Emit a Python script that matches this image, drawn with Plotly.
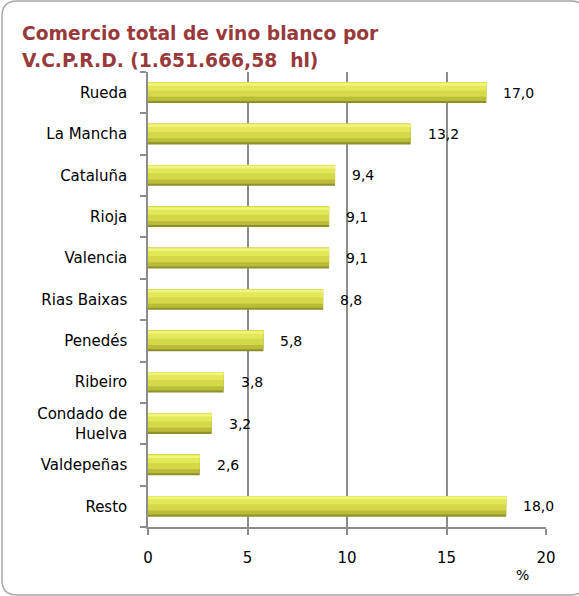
import plotly.graph_objects as go

categories = ["Rueda", "La Mancha", "Cataluña", "Rioja", "Valencia", "Rias Baixas",
              "Penedés", "Ribeiro", "Condado de<br>Huelva", "Valdepeñas", "Resto"]
values = [17.0, 13.2, 9.4, 9.1, 9.1, 8.8, 5.8, 3.8, 3.2, 2.6, 18.0]
labels = ["17,0", "13,2", "9,4", "9,1", "9,1", "8,8", "5,8", "3,8", "3,2", "2,6", "18,0"]
x_ticks = [0, 5, 10, 15, 20]
title_lines = ["Comercio total de vino blanco por", "V.C.P.R.D. (1.651.666,58  hl)"]

# bottom-to-top order for plotting
cats = categories[::-1]
vals = values[::-1]
labs = labels[::-1]

FONT = "DejaVu Sans"
W, H = 579, 596
L, R, T, B = 148, 33, 72, 69
PW, PH = W - L - R, H - T - B

def px(x):
    return (x - L) / PW

def py(y):
    return (H - B - y) / PH

fig = go.Figure()
# bevel layers: (offset, width, color)
layers = [
    (-0.25, 0.50, "#8e9029"),
    (-0.20, 0.45, "#b9bd37"),
    (-0.10, 0.35, "#d3d948"),
    (0.05, 0.20, "#e2e858"),
    (0.17, 0.06, "#f1f57c"),
]
for off, w, col in layers:
    fig.add_trace(go.Bar(
        y=cats, x=vals, orientation="h", offset=off, width=w,
        marker=dict(color=col, line=dict(width=0)),
        hoverinfo="skip", showlegend=False,
    ))

for c, v, t in zip(cats, vals, labs):
    fig.add_annotation(x=v, y=c, text=t, showarrow=False, xanchor="left",
                       xshift=15, font=dict(family=FONT, size=14, color="#000"))

fig.add_annotation(x=px(522), y=py(565), xref="paper", yref="paper", text="%",
                   showarrow=False, xanchor="center", yanchor="top",
                   font=dict(family=FONT, size=14, color="#000"))

for i, line in enumerate(title_lines):
    fig.add_annotation(x=px(20), y=py(21 + 27.5 * i), xref="paper", yref="paper",
                       text=line, showarrow=False, xanchor="left", yanchor="top",
                       align="left",
                       font=dict(family=FONT, size=18.7, color="#993939", weight="bold"))

x0, x1, y0, y1 = px(2), px(586), py(595), py(1)
rx, ry = 15 / PW, 15 / PH
border = (f"M {x0+rx} {y1} L {x1-rx} {y1} Q {x1} {y1} {x1} {y1-ry} "
          f"L {x1} {y0+ry} Q {x1} {y0} {x1-rx} {y0} L {x0+rx} {y0} "
          f"Q {x0} {y0} {x0} {y0+ry} L {x0} {y1-ry} Q {x0} {y1} {x0+rx} {y1} Z")

fig.update_layout(
    barmode="overlay",
    width=W, height=H,
    margin=dict(l=L, r=R, t=T, b=B, autoexpand=False),
    paper_bgcolor="white", plot_bgcolor="white",
    xaxis=dict(range=[0, 20], tickvals=x_ticks, ticktext=[str(t) for t in x_ticks],
               showgrid=True, gridcolor="#8c8c8c", gridwidth=1.5,
               showline=True, linecolor="#8c8c8c", linewidth=1.5,
               ticks="outside", ticklen=6, tickcolor="#8c8c8c", tickwidth=1.5,
               zeroline=False, ticklabelstandoff=10, automargin=False,
               tickfont=dict(family=FONT, size=15, color="#000")),
    yaxis=dict(categoryorder="array", categoryarray=cats,
               showline=True, linecolor="#8c8c8c", linewidth=1.5,
               ticks="outside", ticklen=6, tickcolor="#8c8c8c", tickwidth=1.5,
               tickson="boundaries", showgrid=False, ticklabelstandoff=16,
               automargin=False,
               tickfont=dict(family=FONT, size=15, color="#000")),
    shapes=[dict(type="path", xref="paper", yref="paper", path=border,
                 line=dict(color="#a8a8a8", width=1.5), layer="below")],
)

fig.write_html("out.html", config={"displayModeBar": False},
               post_script="document.body.style.margin='0';document.body.style.padding='0';")
